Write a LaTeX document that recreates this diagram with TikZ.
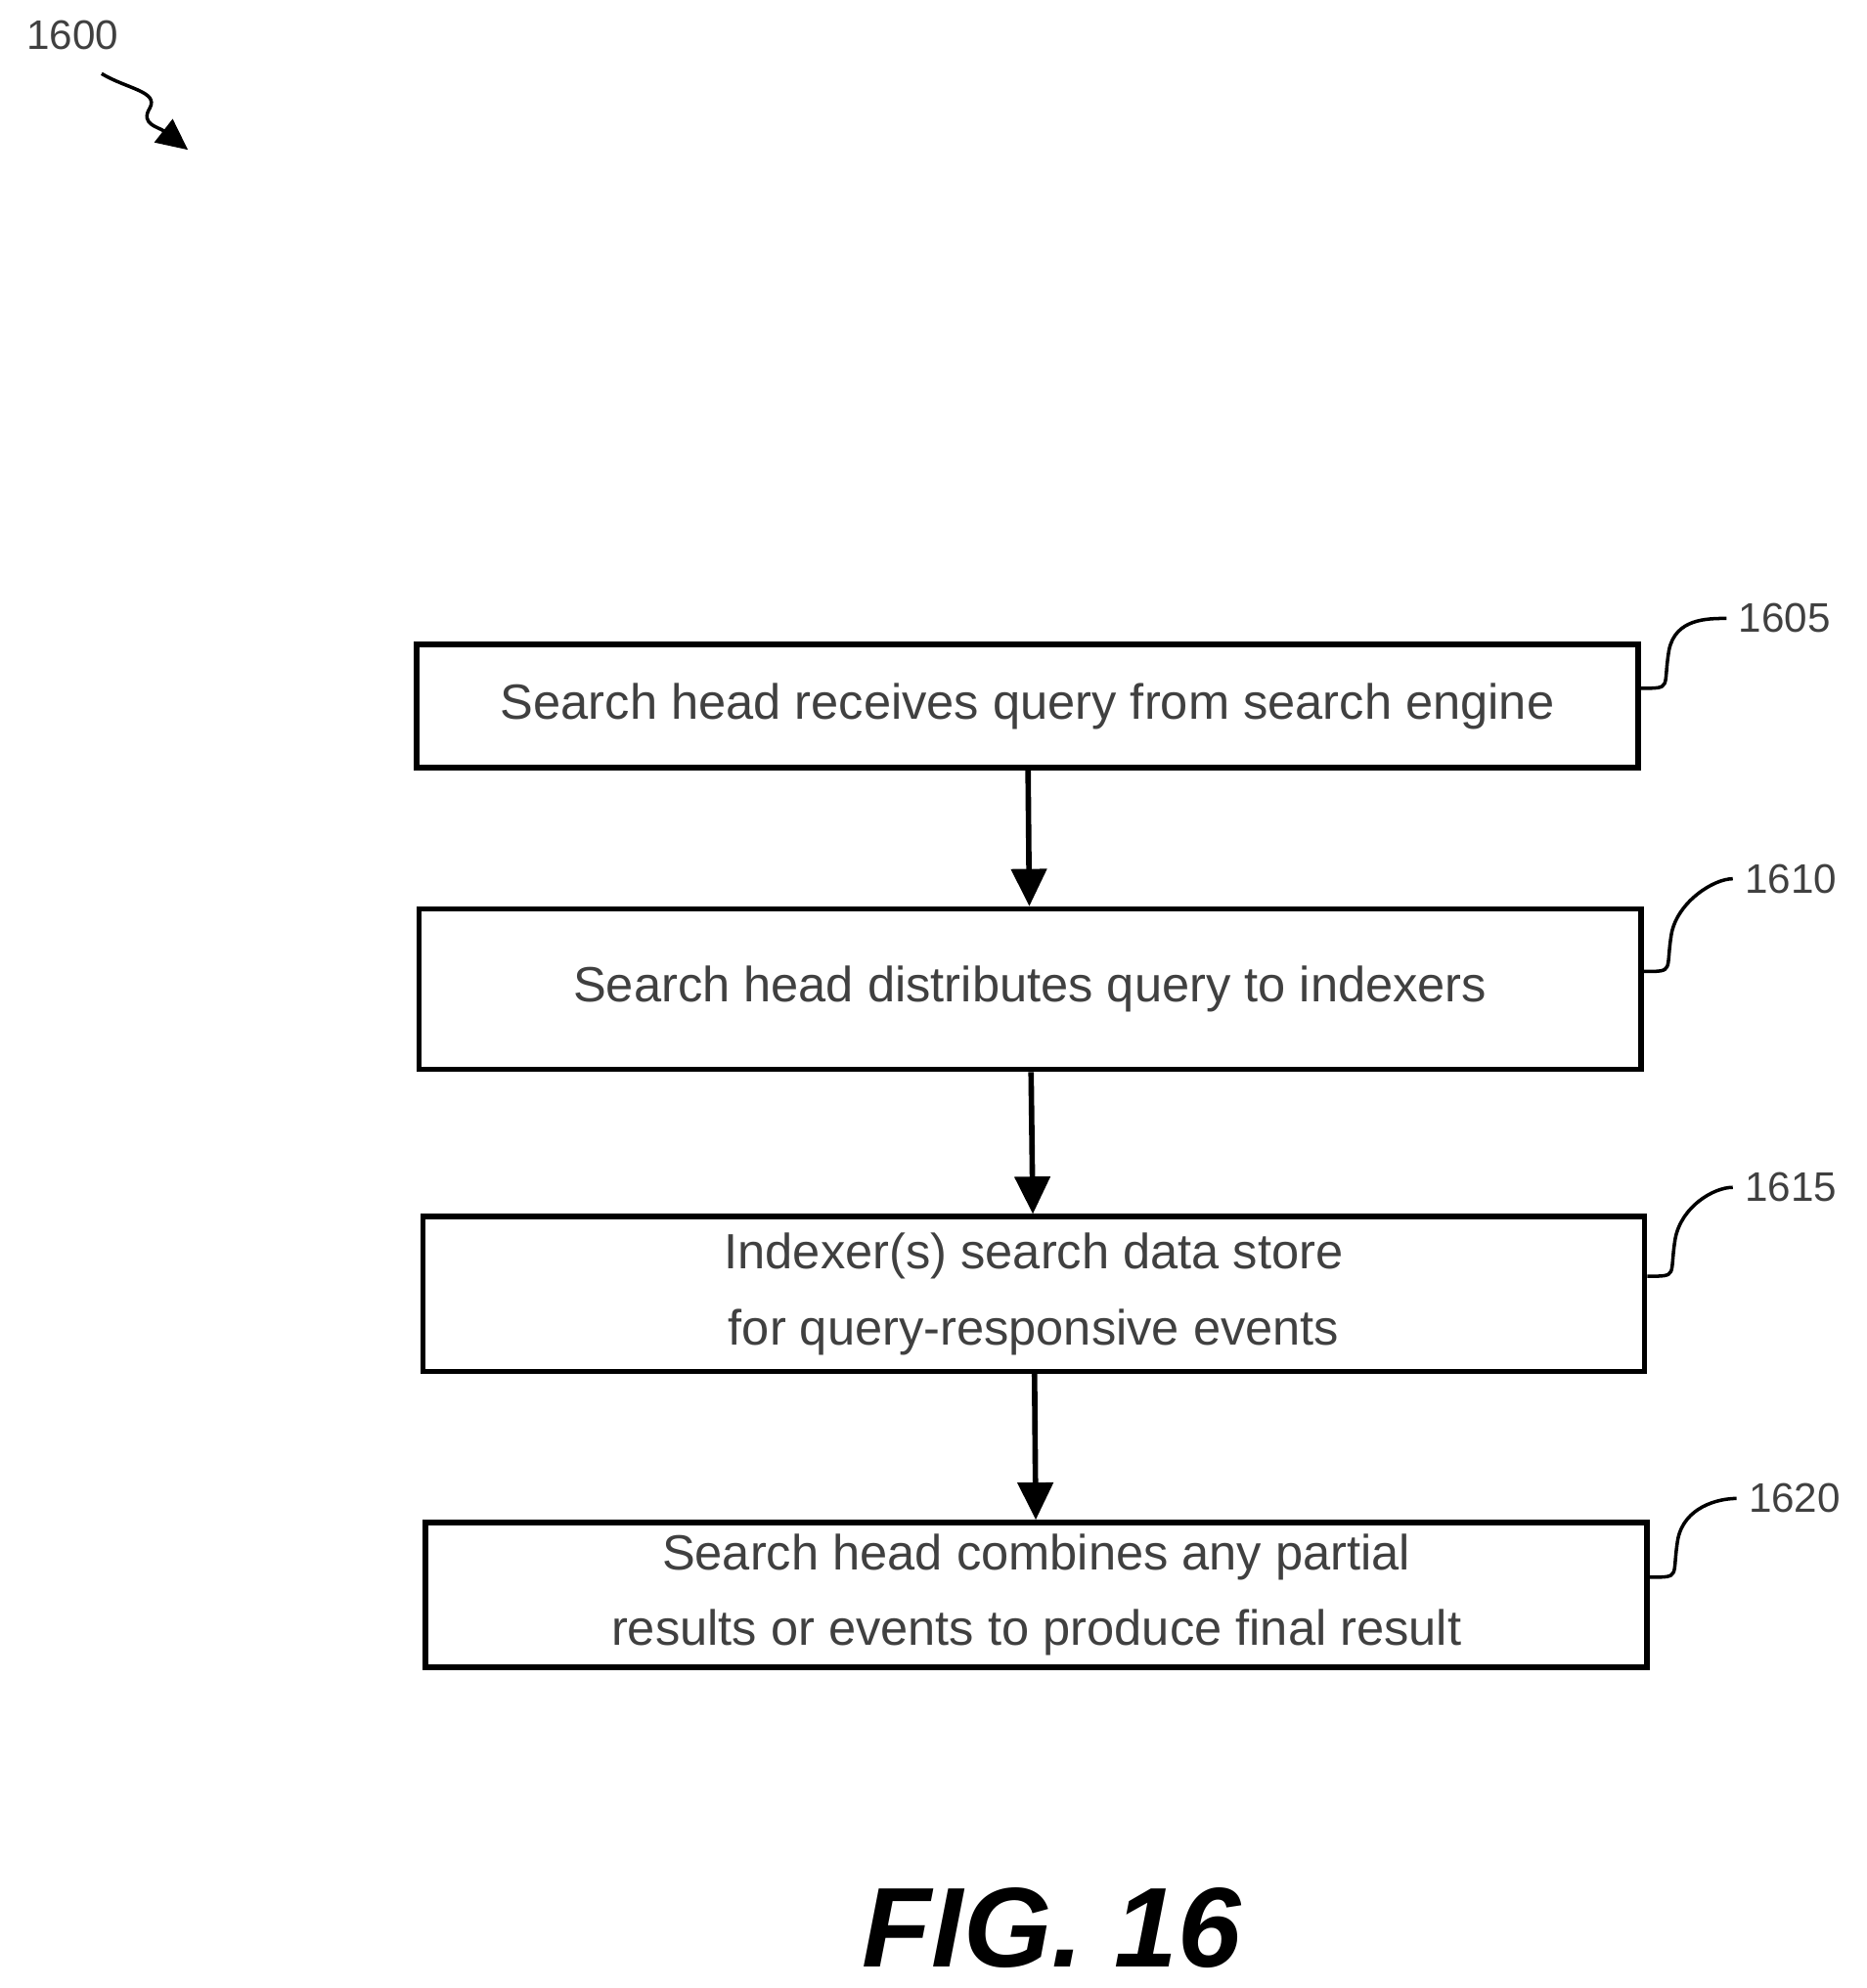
\documentclass[tikz,border=0pt]{standalone}
\usepackage{fontspec}
\setmainfont{Liberation Sans}
\usetikzlibrary{arrows.meta}
\tikzset{%
  tipA/.tip={Triangle[angle=50:12pt]},
  stepbox/.style={draw, line width=1.6pt, minimum width=12.49cm, align=center,
    font=\fontsize{14.4pt}{22pt}\selectfont, text=black!75},
  ref/.style={font=\fontsize{12pt}{14pt}\selectfont, text=black!75},
  flow/.style={-tipA, line width=1.6pt},
  lead/.style={line width=1pt}
}

\begin{document}
\begin{tikzpicture}[x=0.012986cm, y=-0.012986cm]
	\useasboundingbox (0,0) rectangle (1470,1565.5);
	% steps
	\node[stepbox, minimum height=1.26cm] (s1605) at (809,556) {Search head receives query from search engine};
	\node[stepbox, minimum height=1.64cm] (s1610) at (811,779) {Search head distributes query to indexers};
	\node[stepbox, minimum height=1.58cm] (s1615) at (814,1019) {Indexer(s) search data store\\for query-responsive events};
	\node[stepbox, minimum height=1.40cm] (s1620) at (816,1256) {Search head combines any partial\\results or events to produce final result};
	\draw[flow] (s1605) -- (s1610);
	\draw[flow] (s1610) -- (s1615);
	\draw[flow] (s1615) -- (s1620);
	% reference numerals
	\node[ref] (n1605) at (1405,487) {1605};
	\node[ref] (n1610) at (1410,692) {1610};
	\node[ref] (n1615) at (1410,935) {1615};
	\node[ref] (n1620) at (1413,1180) {1620};
	\foreach \s in {1605,1610,1615,1620}
	  \draw[lead] (s\s.east) ++(0,-14) .. controls +(25,0) and +(-5,30) .. ++(22,-30)
	    .. controls +(5,-25) and +(-15,0) .. (n\s.west);
	\node[ref] (n1600) at (57,28) {1600};
	\draw[lead, -{Triangle[angle=50:10pt]}] (80,58) .. controls (100,70) and (125,72) .. (118,85)
	  .. controls (110,98) and (125,100) .. (148,118);
	% figure label
	\node[font=\bfseries\itshape\fontsize{33pt}{36pt}\selectfont] (fig) at (828,1518) {FIG. 16};
\end{tikzpicture}
\end{document}
